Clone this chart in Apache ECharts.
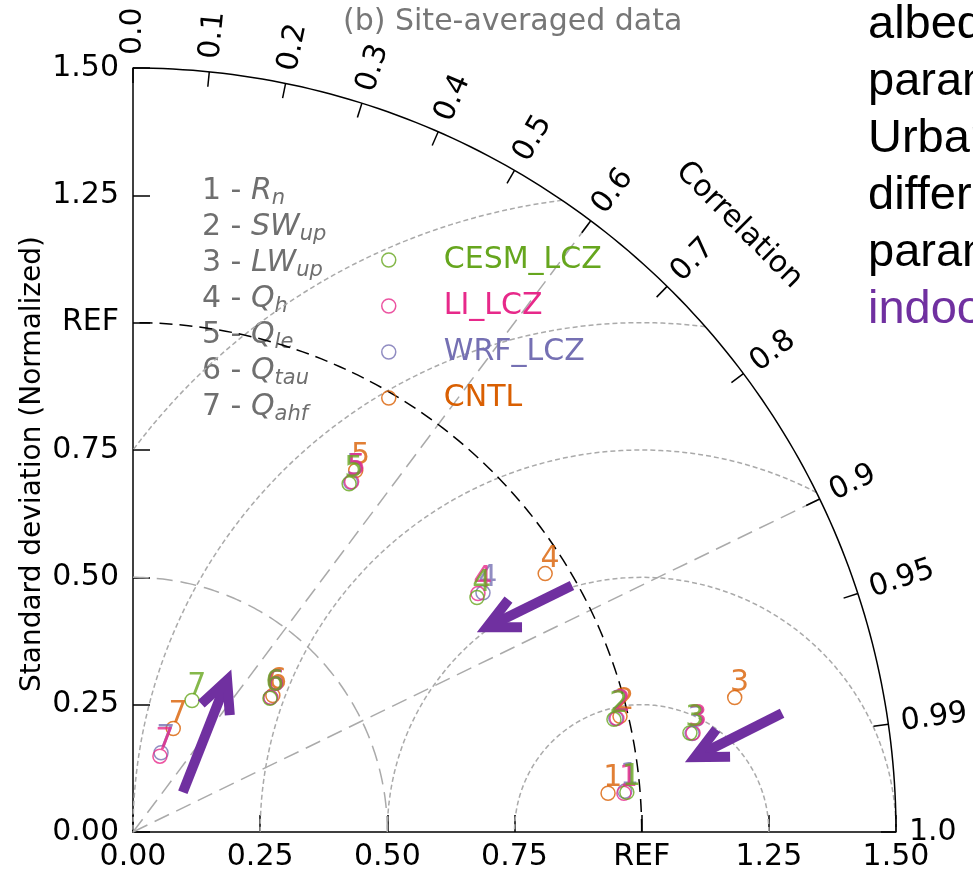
<!DOCTYPE html>
<html>
<head>
<meta charset="utf-8">
<title>Taylor diagram - site-averaged data</title>
<script src="https://cdn.jsdelivr.net/npm/echarts@6/dist/echarts.min.js"></script>
<style>
  html, body { margin: 0; padding: 0; background: #fff; }
  #main { width: 973px; height: 873px; }
</style>
</head>
<body>
<div id="main"></div>
<script>
// variables (number, symbol, subscript)
var varNums = [1, 2, 3, 4, 5, 6, 7];
var varSymbols = ['R', 'SW', 'LW', 'Q', 'Q', 'Q', 'Q'];
var varSubs = ['n', 'up', 'up', 'h', 'le', 'tau', 'ahf'];

// models
var modelNames = ['CESM_LCZ', 'LI_LCZ', 'WRF_LCZ', 'CNTL'];
var modelColors = ['#66a61e', '#e7298a', '#7570b3', '#d95f02'];

// normalized standard deviation and correlation, one value per variable
var stdCESM = [0.974, 0.971, 1.112, 0.818, 0.805, 0.376, 0.283];
var corCESM = [0.9968, 0.9737, 0.9846, 0.8267, 0.5278, 0.716, 0.410];
var stdLI = [0.968, 0.977, 1.118, 0.824, 0.811, 0.378, 0.158];
var corLI = [0.9969, 0.9736, 0.9848, 0.823, 0.530, 0.716, 0.335];
var stdWRF = [0.970, 0.975, 1.116, 0.833, 0.809, 0.378, 0.165];
var corWRF = [0.9966, 0.9735, 0.9849, 0.826, 0.529, 0.716, 0.334];
var stdCNTL = [0.937, 0.984, 1.212, 0.956, 0.834, 0.384, 0.218];
var corCNTL = [0.9967, 0.9730, 0.9760, 0.8476, 0.525, 0.716, 0.363];

var stdByModel = [stdCESM, stdLI, stdWRF, stdCNTL];
var corByModel = [corCESM, corLI, corWRF, corCNTL];

// axis ticks
var corTicks = [0.0, 0.1, 0.2, 0.3, 0.4, 0.5, 0.6, 0.7, 0.8, 0.9, 0.95, 0.99, 1.0];
var corTickLabels = ['0.0', '0.1', '0.2', '0.3', '0.4', '0.5', '0.6', '0.7', '0.8', '0.9', '0.95', '0.99', '1.0'];

// reference lines
var refStd = 1.0;
var maxStd = 1.5;
var stdArcs = [0.5];
var rmsArcs = [0.25, 0.5, 0.75, 1.0, 1.25];
var corLines = [0.6, 0.9];

// annotation arrows, tail -> head, in normalized units
var arrowTail = [[0.863, 0.484], [1.276, 0.233], [0.098, 0.078]];
var arrowHead = [[0.696, 0.402], [1.105, 0.147], [0.185, 0.298]];

// side text of the slide (cropped by the picture edge)
var sideLines = ['albedo', 'param', 'Urban', 'differ', 'param', 'indoor'];

var FONT = 'DejaVu Sans';
var GRAY = '#aaaaaa';
var TEXTGRAY = '#6f6f6f';
var PURPLE = '#7030a0';

function toXY(s, c) {
    return [s * c, s * Math.sqrt(1 - c * c)];
}

var myChart = echarts.init(document.getElementById('main'));

// arc centered (cx, 0) radius r from angle a0 to a1 (data space)
function arcPts(api, cx, r, a0, a1) {
    var pts = [];
    for (var k = 0; k <= 120; k++) {
        var a = a0 + (a1 - a0) * k / 120;
        pts.push(api.coord([cx + r * Math.cos(a), r * Math.sin(a)]));
    }
    return pts;
}

function renderFrame(params, api) {
    var kids = [];
    var longDash = { stroke: GRAY, lineWidth: 1.5, lineDash: [16, 8], fill: null };
    var shortDash = { stroke: GRAY, lineWidth: 1.5, lineDash: [5, 3], fill: null };

    // rms difference arcs centered at REF
    rmsArcs.forEach(function (r) {
        var cmax = (maxStd * maxStd - refStd * refStd - r * r) / (2 * r * refStd);
        var a0 = Math.acos(Math.min(1, cmax));
        var a1 = r > refStd ? Math.acos(-refStd / r) : Math.PI;
        kids.push({ type: 'polyline', shape: { points: arcPts(api, refStd, r, a0, a1) }, style: shortDash, silent: true });
    });
    // std arcs
    stdArcs.forEach(function (r) {
        kids.push({ type: 'polyline', shape: { points: arcPts(api, 0, r, 0, Math.PI / 2) }, style: longDash, silent: true });
    });
    // correlation lines
    corLines.forEach(function (c) {
        var s = Math.sqrt(1 - c * c);
        kids.push({ type: 'polyline', shape: { points: [api.coord([0, 0]), api.coord([maxStd * c, maxStd * s])] }, style: longDash, silent: true });
    });
    // REF arc
    kids.push({ type: 'polyline', shape: { points: arcPts(api, 0, refStd, 0, Math.PI / 2) },
        style: { stroke: '#000', lineWidth: 1.5, lineDash: [13, 7], fill: null }, silent: true });
    // outer arc
    kids.push({ type: 'polyline', shape: { points: arcPts(api, 0, maxStd, 0, Math.PI / 2) },
        style: { stroke: '#000', lineWidth: 1.5, fill: null }, silent: true });

    // correlation ticks and labels
    corTicks.forEach(function (c, i) {
        var s = Math.sqrt(1 - c * c);
        var th = Math.acos(c);
        var p = api.coord([maxStd * c, maxStd * s]);
        kids.push({ type: 'line', shape: { x1: p[0], y1: p[1], x2: p[0] - 15 * c, y2: p[1] + 15 * s },
            style: { stroke: '#000', lineWidth: 1.5 }, silent: true });
        kids.push({ type: 'text', x: p[0] + 13 * c, y: p[1] - 13 * s, rotation: th, silent: true,
            style: { text: corTickLabels[i], fill: '#000', font: '30px "' + FONT + '"',
                align: 'left', verticalAlign: 'middle', textAlign: 'left', textVerticalAlign: 'middle' } });
    });

    // axis title along the arc
    var cp = api.coord([1.685 * Math.cos(Math.PI / 4), 1.685 * Math.sin(Math.PI / 4)]);
    kids.push({ type: 'text', x: cp[0], y: cp[1], rotation: -Math.PI / 4, silent: true,
        style: { text: 'Correlation', fill: '#000', font: '30px "' + FONT + '"',
            align: 'center', verticalAlign: 'middle', textAlign: 'center', textVerticalAlign: 'middle' } });

    return { type: 'group', children: kids };
}

function renderArrow(params, api) {
    var p1 = api.coord([api.value(0), api.value(1)]);
    var p2 = api.coord([api.value(2), api.value(3)]);
    var back = Math.atan2(p1[1] - p2[1], p1[0] - p2[0]);
    var len = 35, spread = 26 * Math.PI / 180;
    var a = [p2[0] + len * Math.cos(back - spread), p2[1] + len * Math.sin(back - spread)];
    var b = [p2[0] + len * Math.cos(back + spread), p2[1] + len * Math.sin(back + spread)];
    var st = { stroke: PURPLE, lineWidth: 10, fill: null, lineJoin: 'miter', lineCap: 'butt' };
    var q = [p2[0] + 4 * Math.cos(back), p2[1] + 4 * Math.sin(back)];
    return {
        type: 'group', children: [
            { type: 'polyline', shape: { points: [p1, q] }, style: st },
            { type: 'polyline', shape: { points: [a, p2, b] }, style: st }
        ]
    };
}

function fmtStd(v) {
    return Math.abs(v - refStd) < 1e-9 ? 'REF' : v.toFixed(2);
}

var axisCommon = {
    type: 'value', min: 0, max: maxStd, interval: 0.25,
    axisLine: { show: true, onZero: false, lineStyle: { color: '#000', width: 1.5 } },
    axisTick: { show: true, inside: true, length: 17, lineStyle: { color: '#000', width: 1.5 } },
    splitLine: { show: false }
};

// scatter series, drawn bottom to top: CNTL, WRF, LI, CESM
var drawOrder = [3, 2, 1, 0];
var scatterSeries = drawOrder.map(function (m) {
    var data = stdByModel[m].map(function (s, i) {
        var xy = toXY(s, corByModel[m][i]);
        return [xy[0], xy[1], varNums[i]];
    });
    return {
        name: modelNames[m],
        type: 'scatter',
        symbol: 'circle',
        symbolSize: 14,
        z: 3,
        itemStyle: { color: 'transparent', borderColor: modelColors[m], borderWidth: 1.5 },
        label: {
            show: true,
            formatter: function (p) { return p.value[2]; },
            position: [3, 8],
            align: 'left',
            verticalAlign: 'bottom',
            color: modelColors[m],
            fontSize: 30,
            fontFamily: FONT,
            lineHeight: 30
        },
        emphasis: { disabled: true },
        data: data
    };
});

var varText = varNums.map(function (n, i) {
    return '{n|' + n + ' - }{i|' + varSymbols[i] + '}{s|' + varSubs[i] + '}';
}).join('\n');

var graphics = [{
    type: 'text', left: 202, top: 176, silent: true,
    style: {
        text: varText,
        fill: TEXTGRAY,
        font: '30px "' + FONT + '"',
        rich: {
            n: { fontSize: 30, fontFamily: FONT, fill: TEXTGRAY, color: TEXTGRAY, lineHeight: 36 },
            i: { fontSize: 30, fontFamily: FONT, fontStyle: 'italic', fill: TEXTGRAY, color: TEXTGRAY, lineHeight: 36 },
            s: { fontSize: 21, fontFamily: FONT, fontStyle: 'italic', fill: TEXTGRAY, color: TEXTGRAY, lineHeight: 22, verticalAlign: 'bottom' }
        }
    }
}];
sideLines.forEach(function (t, i) {
    graphics.push({
        type: 'text', left: 868, top: 2 + i * 57, silent: true,
        style: { text: t, fill: i === sideLines.length - 1 ? PURPLE : '#000', font: '47px "Liberation Sans"' }
    });
});

var option = {
    animation: false,
    backgroundColor: '#fff',
    title: {
        text: '(b) Site-averaged data',
        left: 343, top: 7, padding: 0,
        textStyle: { fontFamily: FONT, fontSize: 30, fontWeight: 'normal', color: '#777' }
    },
    legend: {
        orient: 'vertical',
        left: 376, top: 240,
        itemWidth: 14, itemHeight: 14, itemGap: 16,
        icon: 'circle',
        selectedMode: false,
        textStyle: { fontFamily: FONT, fontSize: 30, lineHeight: 30, padding: [0, 0, 0, 43] },
        data: modelNames.map(function (n, m) {
            return {
                name: n,
                itemStyle: { color: 'transparent', borderColor: modelColors[m], borderWidth: 1.5 },
                textStyle: { color: modelColors[m] }
            };
        })
    },
    grid: { left: 133, right: 77, top: 68, bottom: 41, containLabel: false, outerBoundsMode: 'none' },
    xAxis: echarts.util.merge({
        axisLabel: { margin: 10, color: '#000', fontSize: 30, fontFamily: FONT, formatter: fmtStd }
    }, axisCommon),
    yAxis: echarts.util.merge({
        name: 'Standard deviation (Normalized)',
        nameLocation: 'middle', nameRotate: 90, nameGap: 86, nameMoveOverlap: false,
        nameTextStyle: { color: '#000', fontSize: 28, fontFamily: FONT, padding: [0, 28, 0, 0] },
        axisLabel: { margin: 14, color: '#000', fontSize: 30, fontFamily: FONT, formatter: fmtStd }
    }, axisCommon),
    graphic: graphics,
    series: [{
        type: 'custom',
        name: 'frame',
        silent: true,
        z: 1,
        clip: false,
        renderItem: renderFrame,
        data: [[0, 0]]
    }].concat(scatterSeries).concat([{
        type: 'custom',
        name: 'arrows',
        silent: true,
        z: 5,
        clip: false,
        renderItem: renderArrow,
        data: arrowTail.map(function (t, i) { return [t[0], t[1], arrowHead[i][0], arrowHead[i][1]]; })
    }])
};

myChart.setOption(option);
</script>
</body>
</html>
